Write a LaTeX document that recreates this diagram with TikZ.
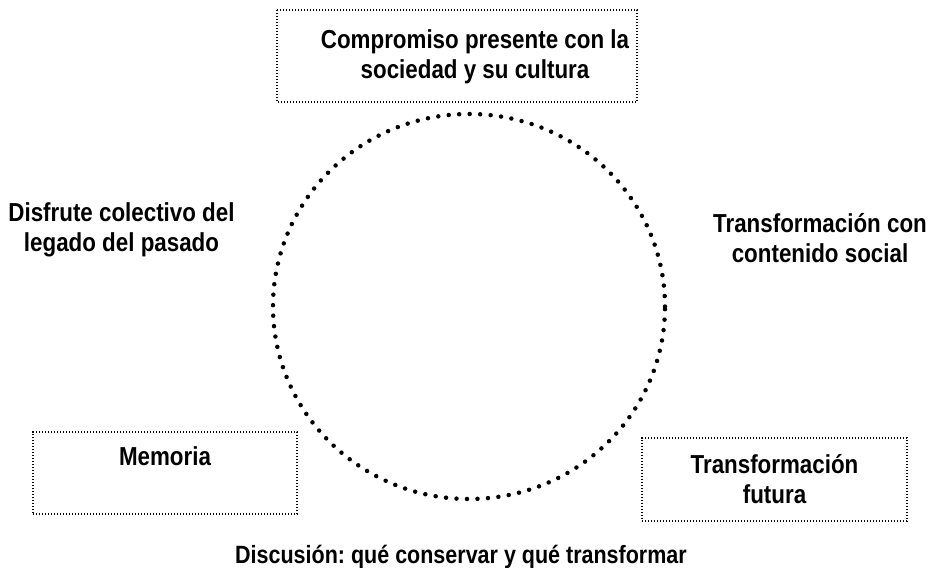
\documentclass[tikz,border=0pt]{standalone}
\usepackage{fontspec}
\setmainfont[FakeStretch=0.86]{Liberation Sans}
\begin{document}
\frenchspacing
\begin{tikzpicture}[x=1pt, y=-1pt,
  texto/.style={align=center, font=\fontsize{26}{30}\selectfont\bfseries},
  borde/.style={draw, line width=1.2pt, dash pattern=on 1.2pt off 1.8pt},
  caja/.style={texto, borde},
  puntos/.style={line width=4.5pt, line cap=round, dash pattern=on 0pt off 10.5pt}]
\useasboundingbox (0,0) rectangle (928,567);

% recuadro de arriba, el texto va algo a la derecha
\node[texto] (compromiso) at (475,56.5) {Compromiso presente con la\\sociedad y su cultura};
\path[borde] (277,10) rectangle (637,102);

\node[caja, minimum width=264pt, minimum height=82pt, text height=18pt, text depth=34pt] (memoria) at (165,473) {Memoria};
\node[caja, minimum width=265pt, minimum height=83pt] (futura) at (774.5,479.5) {Transformación\\futura};

\node[texto] (disfrute) at (121.5,229.5) {Disfrute colectivo del\\legado del pasado};
\node[texto] (contenido) at (820,238.5) {Transformación con\\contenido social};
\node[texto, font=\fontsize{25}{30}\selectfont\bfseries, anchor=base] (discusion) at (461,563) {Discusión: qué conservar y qué transformar};

\path[draw,puntos] (469,306.5) ellipse [x radius=196pt, y radius=192.5pt];
\end{tikzpicture}
\end{document}
